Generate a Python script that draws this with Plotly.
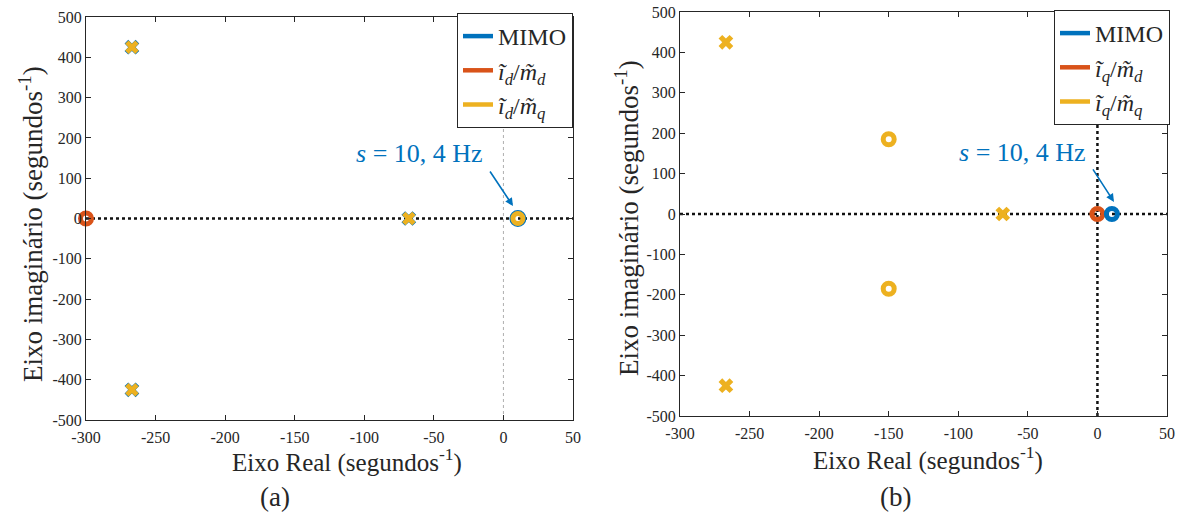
import plotly.graph_objects as go

W, H = 1190, 525
BLUE, RED, YEL = "#0072BD", "#D95319", "#EDB120"
FONT = "Liberation Serif"

# ---- data (a) ----
a_mimo_zero_re = [10.4]; a_mimo_zero_im = [0]
a_mimo_pole_re = [-267, -267, -68]; a_mimo_pole_im = [425, -425, 0]
a_red_zero_re = [-300]; a_red_zero_im = [0]
a_yel_pole_re = [-267, -267, -68]; a_yel_pole_im = [425, -425, 0]
a_yel_zero_re = [10.4]; a_yel_zero_im = [0]

# ---- data (b) ----
b_mimo_zero_re = [10.4]; b_mimo_zero_im = [0]
b_red_zero_re = [0]; b_red_zero_im = [0]
b_yel_pole_re = [-267, -267, -68]; b_yel_pole_im = [425, -425, 0]
b_yel_zero_re = [-150, -150]; b_yel_zero_im = [185, -185]

x_ticks = [-300, -250, -200, -150, -100, -50, 0, 50]
x_ticktext = ["-300", "-250", "-200", "-150", "-100", "-50", "0", "50"]
y_ticks = [-500, -400, -300, -200, -100, 0, 100, 200, 300, 400, 500]
y_ticktext = ["-500", "-400", "-300", "-200", "-100", "0", "100", "200", "300", "400", "500"]

legend_a = ["MIMO", "<i>ĩ</i><sub><i>d</i></sub>/<i>m̃</i><sub><i>d</i></sub>",
            "<i>ĩ</i><sub><i>d</i></sub>/<i>m̃</i><sub><i>q</i></sub>"]
legend_b = ["MIMO", "<i>ĩ</i><sub><i>q</i></sub>/<i>m̃</i><sub><i>d</i></sub>",
            "<i>ĩ</i><sub><i>q</i></sub>/<i>m̃</i><sub><i>q</i></sub>"]

fig = go.Figure()


def px2dom(x0, x1, y0, y1):
    return [x0 / W, x1 / W], [1 - y1 / H, 1 - y0 / H]


def ring(x, y, color, xa, ya, size=11, lw=5):
    fig.add_trace(go.Scatter(x=x, y=y, mode="markers", xaxis=xa, yaxis=ya,
                             showlegend=False, cliponaxis=False, hoverinfo="skip",
                             marker=dict(symbol="circle-open", size=size, color=color,
                                         line=dict(width=lw, color=color))))


def cross(x, y, color, xa, ya, size=12):
    fig.add_trace(go.Scatter(x=x, y=y, mode="markers", xaxis=xa, yaxis=ya,
                             showlegend=False, cliponaxis=False, hoverinfo="skip",
                             marker=dict(symbol="x", size=size, color=color,
                                         line=dict(width=0))))


def legend_entries(names, xa, ya, leg):
    for name, col in zip(names, [BLUE, RED, YEL]):
        fig.add_trace(go.Scatter(x=[None], y=[None], mode="lines", name=name,
                                 xaxis=xa, yaxis=ya, legend=leg,
                                 line=dict(color=col, width=4.5)))


# dotted reference lines (drawn as traces through the axes)
for xa, ya, vcol, vw in [("x", "y", "#b0b0b0", 1), ("x2", "y2", "#111111", 2.5)]:
    fig.add_trace(go.Scatter(x=[-300, 50], y=[0, 0], mode="lines", xaxis=xa, yaxis=ya,
                             showlegend=False, hoverinfo="skip",
                             line=dict(color="#111111", width=2.5, dash="dot")))
    fig.add_trace(go.Scatter(x=[0, 0], y=[-500, 500], mode="lines", xaxis=xa, yaxis=ya,
                             showlegend=False, hoverinfo="skip",
                             line=dict(color=vcol, width=vw, dash="dot")))

# (a)
cross(a_mimo_pole_re, a_mimo_pole_im, BLUE, "x", "y", size=13)
ring(a_red_zero_re, a_red_zero_im, RED, "x", "y")
ring(a_mimo_zero_re, a_mimo_zero_im, BLUE, "x", "y", size=12, lw=5)
cross(a_yel_pole_re, a_yel_pole_im, YEL, "x", "y", size=12)
ring(a_yel_zero_re, a_yel_zero_im, YEL, "x", "y", size=10, lw=5)
legend_entries(legend_a, "x", "y", "legend")

# (b)
ring(b_red_zero_re, b_red_zero_im, RED, "x2", "y2")
ring(b_mimo_zero_re, b_mimo_zero_im, BLUE, "x2", "y2")
cross(b_yel_pole_re, b_yel_pole_im, YEL, "x2", "y2", size=13)
ring(b_yel_zero_re, b_yel_zero_im, YEL, "x2", "y2")
legend_entries(legend_b, "x2", "y2", "legend2")

xd1, yd1 = px2dom(86, 573, 17, 420)
xd2, yd2 = px2dom(680, 1167, 12, 416)

axis_common = dict(showgrid=False, zeroline=False, showline=True, mirror="ticks",
                   linecolor="#262626", linewidth=1, ticks="inside", ticklen=5,
                   tickcolor="#262626", automargin=False,
                   tickfont=dict(family=FONT, size=16, color="#262626"))

leg_common = dict(bgcolor="white", bordercolor="#262626", borderwidth=1,
                  font=dict(family=FONT, size=24, color="#262626"),
                  itemwidth=30, tracegroupgap=0, xanchor="right", yanchor="top")

fig.update_layout(
    width=W, height=H, margin=dict(l=0, r=0, t=0, b=0, autoexpand=False),
    paper_bgcolor="white", plot_bgcolor="white",
    font=dict(family=FONT, color="#262626"),
    xaxis=dict(domain=xd1, range=[-300, 50], tickvals=x_ticks, ticktext=x_ticktext,
               anchor="y", ticklabelstandoff=3, **axis_common),
    yaxis=dict(domain=yd1, range=[-500, 500], tickvals=y_ticks, ticktext=y_ticktext,
               anchor="x", **axis_common),
    xaxis2=dict(domain=xd2, range=[-300, 50], tickvals=x_ticks, ticktext=x_ticktext,
                anchor="y2", ticklabelstandoff=3, **axis_common),
    yaxis2=dict(domain=yd2, range=[-500, 500], tickvals=y_ticks, ticktext=y_ticktext,
                anchor="x2", **axis_common),
    legend=dict(x=573 / W, y=1 - 13 / H, **leg_common),
    legend2=dict(x=1170 / W, y=1 - 10 / H, **leg_common),
)


def pann(text, xp, yp, size, angle=0, color="#262626"):
    return dict(text=text, x=xp / W, y=1 - yp / H, xref="paper", yref="paper",
                xanchor="center", yanchor="middle", showarrow=False, textangle=angle,
                font=dict(family=FONT, size=size, color=color))


ann = [
    pann("Eixo Real (segundos<sup>-1</sup>)", 347, 460, 25),
    pann("Eixo Real (segundos<sup>-1</sup>)", 928, 458, 25),
    pann("Eixo imaginário (segundos<sup>-1</sup>)", 31, 224, 27, angle=-90),
    pann("Eixo imaginário (segundos<sup>-1</sup>)", 627, 218, 27, angle=-90),
    pann("(a)", 275, 497, 27),
    pann("(b)", 895, 497, 27),
]
# s = 10,4 Hz labels and arrows
ann.append(dict(text="<i>s</i> = 10, 4 Hz", x=-60, y=162, xref="x", yref="y",
                xanchor="center", yanchor="middle",
                showarrow=False, font=dict(family=FONT, size=26, color=BLUE)))
ann.append(dict(text="", x=6.9, y=31, xref="x", yref="y", showarrow=True,
                ax=-24, ay=-36, arrowhead=2, arrowsize=1, arrowwidth=1.6,
                arrowcolor=BLUE))
ann.append(dict(text="<i>s</i> = 10, 4 Hz", x=-53.5, y=152, xref="x2", yref="y2",
                xanchor="center", yanchor="middle",
                showarrow=False, font=dict(family=FONT, size=26, color=BLUE)))
ann.append(dict(text="", x=11.9, y=30, xref="x2", yref="y2", showarrow=True,
                ax=-22, ay=-34, arrowhead=2, arrowsize=1, arrowwidth=1.6,
                arrowcolor=BLUE))
fig.update_layout(annotations=ann)

fig.write_html("out.html")
